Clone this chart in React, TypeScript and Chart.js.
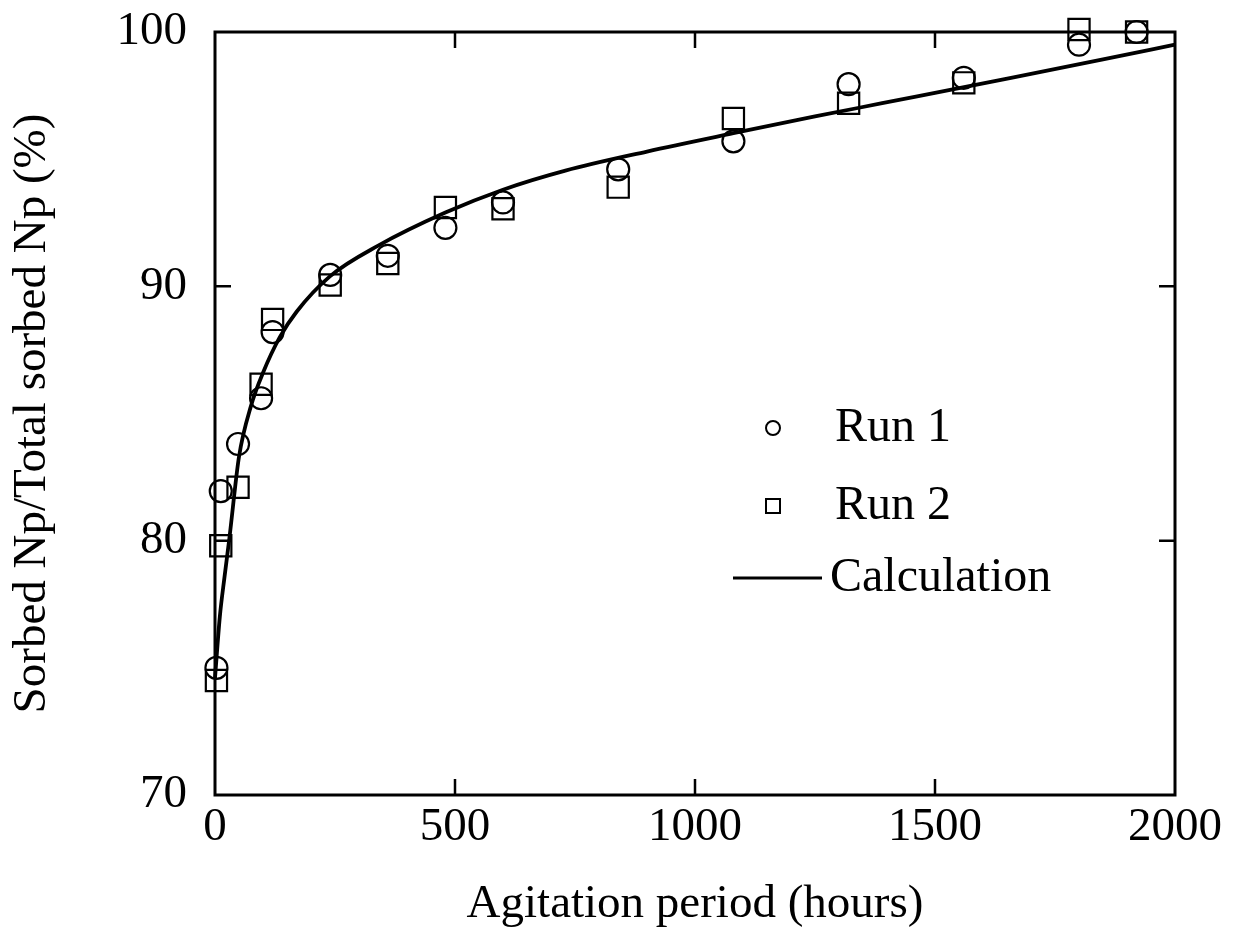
import React, { useEffect, useRef } from "react";
import { Chart, registerables } from "chart.js";

Chart.register(...registerables);

// Agitation period (hours)
const hours = [3, 12, 48, 96, 120, 240, 360, 480, 600, 840, 1080, 1320, 1560, 1800, 1920];
// Sorbed Np / Total sorbed Np (%)
const run1 = [75.0, 81.95, 83.8, 85.6, 88.2, 90.45, 91.2, 92.3, 93.3, 94.6, 95.7, 97.95, 98.2, 99.5, 100.0];
const run2 = [74.5, 79.8, 82.1, 86.15, 88.7, 90.05, 90.9, 93.1, 93.05, 93.9, 96.6, 97.2, 98.0, 100.1, 100.0];

// Calculation curve
const calcHours = [0, 10, 20, 30, 50, 75, 100, 135, 170, 240, 340, 480, 600, 730, 900, 1080, 1250, 1390, 1640, 1850, 2000];
const calcValues = [74.6, 77.0, 78.6, 80.1, 83.3, 85.3, 86.6, 88.0, 89.0, 90.4, 91.6, 92.9, 93.8, 94.55, 95.3, 96.02, 96.68, 97.2, 98.13, 98.92, 99.5];

const xTicks = [0, 500, 1000, 1500, 2000];
const yTicks = [70, 80, 90, 100];

const xTitle = "Agitation period (hours)";
const yTitle = "Sorbed Np/Total sorbed Np (%)";
const legendLabels = ["Run 1", "Run 2", "Calculation"];

const FONT = "'Liberation Serif', 'Times New Roman', serif";

const framePlugin = {
  id: "frameAndTicks",
  afterDraw(chart: any) {
    const { ctx, chartArea } = chart;
    const { left, right, top, bottom } = chartArea;
    const xs = chart.scales.x;
    const ys = chart.scales.y;
    ctx.save();
    ctx.strokeStyle = "#000";
    ctx.lineWidth = 3;
    ctx.strokeRect(left, top, right - left, bottom - top);
    ctx.lineWidth = 2.5;
    const tl = 16;
    xTicks.slice(1, -1).forEach((v) => {
      const px = xs.getPixelForValue(v);
      ctx.beginPath();
      ctx.moveTo(px, bottom);
      ctx.lineTo(px, bottom - tl);
      ctx.moveTo(px, top);
      ctx.lineTo(px, top + tl);
      ctx.stroke();
    });
    yTicks.slice(1, -1).forEach((v) => {
      const py = ys.getPixelForValue(v);
      ctx.beginPath();
      ctx.moveTo(left, py);
      ctx.lineTo(left + tl, py);
      ctx.moveTo(right, py);
      ctx.lineTo(right - tl, py);
      ctx.stroke();
    });

    // legend
    ctx.fillStyle = "#000";
    ctx.font = `48px ${FONT}`;
    ctx.textAlign = "left";
    ctx.textBaseline = "middle";
    const mx = 773;
    const tx = 835;
    const rows = [428, 506, 578];
    ctx.lineWidth = 2;
    ctx.beginPath();
    ctx.arc(mx, rows[0], 7, 0, Math.PI * 2);
    ctx.stroke();
    ctx.strokeRect(mx - 7, rows[1] - 7, 14, 14);
    ctx.lineWidth = 3;
    ctx.beginPath();
    ctx.moveTo(733, rows[2]);
    ctx.lineTo(822, rows[2]);
    ctx.stroke();
    ctx.fillText(legendLabels[0], tx, rows[0]);
    ctx.fillText(legendLabels[1], tx, rows[1]);
    ctx.fillText(legendLabels[2], 830, rows[2]);
    ctx.restore();
  },
};

export default function App() {
  const canvasRef = useRef<HTMLCanvasElement | null>(null);

  useEffect(() => {
    if (!canvasRef.current) return;
    const chart = new Chart(canvasRef.current, {
      type: "scatter",
      data: {
        datasets: [
          {
            label: legendLabels[0],
            data: hours.map((h, i) => ({ x: h, y: run1[i] })),
            pointStyle: "circle",
            pointRadius: 11,
            pointBorderWidth: 2.2,
            borderColor: "#000",
            backgroundColor: "rgba(0,0,0,0)",
            showLine: false,
            clip: false,
          },
          {
            label: legendLabels[1],
            data: hours.map((h, i) => ({ x: h, y: run2[i] })),
            pointStyle: "rect",
            pointRadius: 15,
            pointBorderWidth: 2.2,
            borderColor: "#000",
            backgroundColor: "rgba(0,0,0,0)",
            showLine: false,
            clip: false,
          },
          {
            label: legendLabels[2],
            data: calcHours.map((h, i) => ({ x: h, y: calcValues[i] })),
            showLine: true,
            pointRadius: 0,
            borderColor: "#000",
            borderWidth: 3.8,
            cubicInterpolationMode: "monotone",
            clip: false,
          } as any,
        ],
      },
      options: {
        animation: false,
        responsive: true,
        maintainAspectRatio: false,
        layout: { padding: { left: 0, top: 32, right: 63, bottom: 0 } },
        plugins: {
          legend: { display: false },
          tooltip: { enabled: false },
        },
        scales: {
          x: {
            type: "linear",
            min: 0,
            max: 2000,
            afterFit(scale: any) {
              scale.height = 152;
              scale.paddingLeft = 0;
              scale.paddingRight = 0;
            },
            afterBuildTicks(scale: any) {
              scale.ticks = xTicks.map((v) => ({ value: v }));
            },
            grid: { display: false, drawTicks: false },
            border: { display: false },
            ticks: {
              autoSkip: false,
              maxRotation: 0,
              padding: 4,
              color: "#000",
              font: { family: FONT, size: 47 },
              callback: (v: any) => String(v),
            },
            title: {
              display: true,
              text: xTitle,
              color: "#000",
              font: { family: FONT, size: 47 },
              padding: { top: 0, bottom: 14 },
            },
          },
          y: {
            type: "linear",
            min: 70,
            max: 100,
            afterFit(scale: any) {
              scale.width = 215;
              scale.paddingTop = 0;
              scale.paddingBottom = 0;
            },
            afterBuildTicks(scale: any) {
              scale.ticks = yTicks.map((v) => ({ value: v }));
            },
            grid: { display: false, drawTicks: false },
            border: { display: false },
            ticks: {
              autoSkip: false,
              padding: 28,
              color: "#000",
              font: { family: FONT, size: 47 },
              callback: (v: any) => String(v),
            },
            title: {
              display: true,
              text: yTitle,
              color: "#000",
              font: { family: FONT, size: 47 },
              padding: { top: 4, bottom: 0 },
            },
          },
        },
      },
      plugins: [framePlugin],
    } as any);
    return () => chart.destroy();
  }, []);

  return (
    <div style={{ position: "absolute", left: 0, top: 0, width: 1238, height: 947, background: "#fff" }}>
      <canvas ref={canvasRef} />
    </div>
  );
}
